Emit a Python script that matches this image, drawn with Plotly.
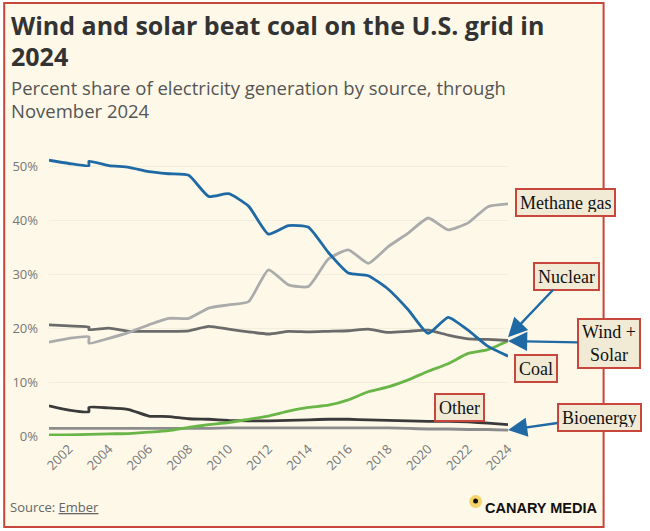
import plotly.graph_objects as go

# ---------------- data (percent share of US generation) ----------------
years = [2001, 2002, 2003, 2003, 2004, 2005, 2006, 2007, 2008, 2009, 2010, 2011,
         2012, 2013, 2014, 2015, 2016, 2017, 2018, 2019, 2020, 2021, 2022, 2023, 2024]

coal = [51.1, 50.5, 50.1, 50.9, 50.1, 49.8, 49.0, 48.6, 48.3, 44.4, 44.9, 42.6,
        37.4, 39.0, 38.7, 34.0, 30.2, 29.7, 27.2, 23.4, 19.0, 22.0, 19.6, 16.6, 14.8]
methane = [17.4, 18.1, 18.4, 17.2, 18.1, 19.2, 20.6, 21.8, 21.8, 23.7, 24.3, 24.9,
           30.8, 28.0, 27.7, 32.8, 34.5, 32.0, 35.1, 37.6, 40.4, 38.2, 39.5, 42.5, 43.0]
nuclear = [20.6, 20.4, 20.2, 19.7, 20.0, 19.4, 19.4, 19.4, 19.5, 20.3, 19.8, 19.3,
           18.9, 19.4, 19.3, 19.4, 19.5, 19.8, 19.2, 19.4, 19.6, 18.7, 18.0, 17.9, 17.7]
wind_solar = [0.2, 0.2, 0.3, 0.3, 0.4, 0.45, 0.7, 1.0, 1.6, 2.1, 2.5, 3.1,
              3.7, 4.6, 5.3, 5.7, 6.7, 8.2, 9.1, 10.4, 12.0, 13.4, 15.3, 16.0, 17.6]
other = [5.6, 4.8, 4.5, 5.3, 5.2, 4.9, 3.7, 3.6, 3.2, 3.1, 2.9, 2.8,
         2.8, 2.9, 3.0, 3.1, 3.1, 3.0, 2.9, 2.8, 2.7, 2.7, 2.6, 2.4, 2.1]
bioenergy = [1.4, 1.4, 1.4, 1.4, 1.4, 1.4, 1.4, 1.4, 1.4, 1.4, 1.5, 1.5,
             1.5, 1.5, 1.5, 1.5, 1.5, 1.5, 1.5, 1.4, 1.3, 1.3, 1.2, 1.2, 1.1]

series_names = ["Bioenergy", "Other", "Wind + Solar", "Nuclear", "Methane gas", "Coal"]
series_values = [bioenergy, other, wind_solar, nuclear, methane, coal]
series_colors = ["#8c8c8c", "#3a3a3a", "#6ab547", "#6b6b6b", "#ababab", "#1f6aa5"]

tick_years = list(range(2002, 2025, 2))
tick_pct = [0, 10, 20, 30, 40, 50]
tick_pct_text = [f"{v}%" for v in tick_pct]

# ---------------- layout geometry ----------------
W, H = 650, 531
L, R, T, B = 47, 142, 150, 95
PW, PH = W - L - R, H - T - B


def px_x(p):
    return (p - L) / PW


def px_y(p):
    return (H - B - p) / PH


RED = "#c8463b"
CREAM = "#fdf8e8"
BOX = "#f1ebd6"
BLUE = "#1f6aa5"

fig = go.Figure()
for name, vals, col in zip(series_names, series_values, series_colors):
    fig.add_trace(go.Scatter(
        x=years, y=vals, name=name, mode="lines",
        line=dict(color=col, width=2.8, shape="spline", smoothing=0.5),
        hoverinfo="skip", showlegend=False, cliponaxis=False,
    ))

shapes = [
    dict(type="rect", xref="paper", yref="paper",
         x0=px_x(2), x1=px_x(604), y0=px_y(527), y1=px_y(3),
         fillcolor=CREAM, line=dict(color=RED, width=2), layer="below"),
    # logo circle
    dict(type="circle", xref="paper", yref="paper",
         x0=px_x(469), x1=px_x(482), y0=px_y(508), y1=px_y(495),
         fillcolor="#f6d36a", line=dict(width=0), layer="above"),
    dict(type="circle", xref="paper", yref="paper",
         x0=px_x(473), x1=px_x(478), y0=px_y(503.5), y1=px_y(498.5),
         fillcolor="#111111", line=dict(width=0), layer="above"),
]

serif = dict(family="Liberation Serif", size=18, color="#111111")
tfont = dict(family="Open Sans", size=25, color="#333333")
sfont = dict(family="Open Sans", size=18.5, color="#555555")


def text_line(txt, x, y, font):
    return dict(xref="paper", yref="paper", x=px_x(x), y=px_y(y), xanchor="left",
                yanchor="middle", align="left", showarrow=False, text=txt, font=font)


def label_box(txt, cx, cy, h=19):
    return dict(xref="paper", yref="paper", x=px_x(cx), y=px_y(cy), xanchor="center",
                yanchor="middle", showarrow=False, text=txt, font=serif, bgcolor=BOX,
                bordercolor=RED, borderwidth=2, borderpad=3, height=h)


def arrow_box(txt, xval, yval, ax, ay, h=19):
    return dict(xref="x", yref="y", x=xval, y=yval, ax=ax, ay=ay, showarrow=True,
                arrowhead=2, arrowsize=1.6, arrowwidth=2.4, arrowcolor=BLUE,
                xanchor="center", yanchor="middle", height=h,
                text=txt, font=serif, bgcolor=BOX, bordercolor=RED, borderwidth=2, borderpad=3)


annotations = [
    text_line("<b>Wind and solar beat coal on the U.S. grid in</b>", 7, 25, tfont),
    text_line("<b>2024</b>", 7, 56, tfont),
    text_line("Percent share of electricity generation by source, through", 7, 88, sfont),
    text_line("November 2024", 7, 110, sfont),
    text_line("Source: <u>Ember</u>", 6, 507, dict(family="Open Sans", size=13, color="#666666")),
    text_line("<b>CANARY MEDIA</b>", 483, 508, dict(family="Liberation Sans", size=14.5, color="#111111")),
    label_box("Methane gas", 566, 202.5),
    label_box("Coal", 536.5, 368),
    label_box("Other", 459, 407),
    arrow_box("Nuclear", 2024, 18.3, 58, -61),
    arrow_box("Wind +<br>Solar", 2024, 17.6, 101, 2, h=41),
    arrow_box("Bioenergy", 2024, 1.1, 91, -13),
]

fig.update_layout(
    width=W, height=H, autosize=False,
    margin=dict(l=L, r=R, t=T, b=B, pad=0),
    paper_bgcolor="white", plot_bgcolor="rgba(0,0,0,0)",
    shapes=shapes, annotations=annotations,
    xaxis=dict(range=[2001, 2024], tickvals=tick_years, ticktext=[str(y) for y in tick_years],
               tickangle=-45, showgrid=False, zeroline=False, showline=False,
               tickfont=dict(family="Open Sans", size=13, color="#777777"), ticklabelstandoff=2),
    yaxis=dict(range=[0, 53], tickvals=tick_pct, ticktext=tick_pct_text, showgrid=True,
               gridcolor="#f3eddb", gridwidth=1, zeroline=False, showline=False,
               tickfont=dict(family="Open Sans", size=13, color="#777777"), ticklabelstandoff=10),
)

fig.write_html("out.html", config={"displayModeBar": False},
               post_script="document.body.style.margin='0px';")
